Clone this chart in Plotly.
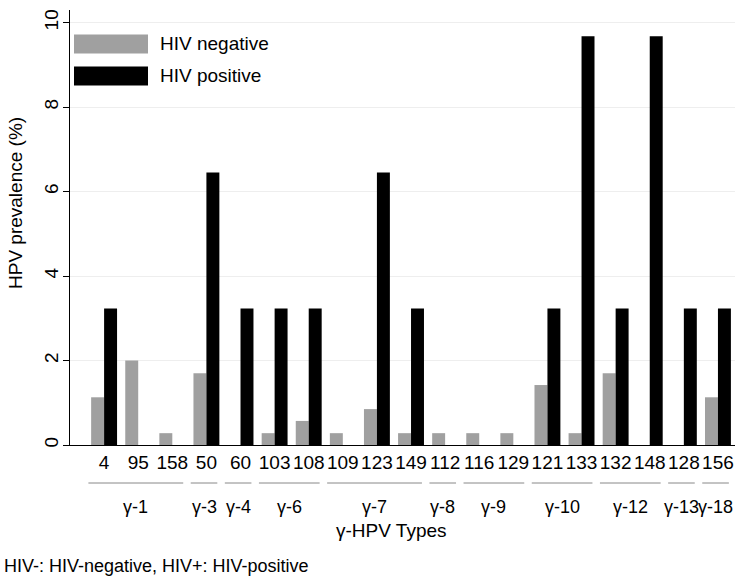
import plotly.graph_objects as go

types = ["4", "95", "158", "50", "60", "103", "108", "109", "123", "149",
         "112", "116", "129", "121", "133", "132", "148", "128", "156"]
hiv_negative = [1.13, 2.0, 0.28, 1.7, 0.0, 0.28, 0.57, 0.28, 0.85, 0.28,
                0.28, 0.28, 0.28, 1.42, 0.28, 1.7, 0.0, 0.0, 1.13]
hiv_positive = [3.23, 0.0, 0.0, 6.45, 3.23, 3.23, 3.23, 0.0, 6.45, 3.23,
                0.0, 0.0, 0.0, 3.23, 9.68, 3.23, 9.68, 3.23, 3.23]
groups = ["γ-1", "γ-3", "γ-4", "γ-6", "γ-7", "γ-8", "γ-9", "γ-10", "γ-12", "γ-13", "γ-18"]
group_sizes = [3, 1, 1, 2, 3, 1, 2, 2, 2, 1, 1]
y_ticks = [0, 2, 4, 6, 8, 10]

FONT = "Liberation Sans, Arial, sans-serif"
GRAY = "#a0a0a0"
FS = 19

W, H = 750, 581
L, T = 70, 10
R = W - 735
B = H - 445
PW, PH = W - L - R, H - T - B


def px_x(p):
    return (p - L) / PW


def px_y(p):
    return (T + PH - p) / PH


xs = list(range(len(types)))
fig = go.Figure()
fig.add_trace(go.Bar(x=xs, y=hiv_negative, name="HIV negative",
                     marker=dict(color=GRAY, line=dict(width=0)), showlegend=False))
fig.add_trace(go.Bar(x=xs, y=hiv_positive, name="HIV positive",
                     marker=dict(color="black", line=dict(width=0)), showlegend=False))

shapes = []
annotations = []
start = 0
for g, n in zip(groups, group_sizes):
    x0 = start - 0.46
    x1 = start + n - 1 + 0.32
    shapes.append(dict(type="line", xref="x", yref="paper", x0=x0, x1=x1,
                       y0=px_y(483), y1=px_y(483), line=dict(color="#888888", width=1)))
    annotations.append(dict(xref="x", yref="paper", x=(x0 + x1) / 2, y=px_y(507),
                            text=g, showarrow=False, font=dict(size=18, color="black", family=FONT),
                            xanchor="center", yanchor="middle"))
    start += n

# legend (drawn)
leg = [("HIV negative", GRAY, 44), ("HIV positive", "black", 76)]
for label, col, yc in leg:
    shapes.append(dict(type="rect", xref="paper", yref="paper",
                       x0=px_x(74), x1=px_x(148),
                       y0=px_y(yc + 9.5), y1=px_y(yc - 9.5), fillcolor=col,
                       line=dict(width=0)))
    annotations.append(dict(xref="paper", yref="paper", x=px_x(158), y=px_y(yc),
                            text=label, showarrow=False, xanchor="left", yanchor="middle",
                            font=dict(size=FS, color="black", family=FONT)))

annotations.append(dict(xref="paper", yref="paper", x=px_x(391), y=px_y(530),
                        text="γ-HPV Types", showarrow=False, xanchor="center", yanchor="middle",
                        font=dict(size=FS, color="black", family=FONT)))
annotations.append(dict(xref="paper", yref="paper", x=px_x(15), y=px_y(203),
                        text="HPV prevalence (%)", showarrow=False, textangle=-90,
                        xanchor="center", yanchor="middle",
                        font=dict(size=FS, color="black", family=FONT)))
annotations.append(dict(xref="paper", yref="paper", x=px_x(2), y=px_y(566),
                        text="HIV-: HIV-negative, HIV+: HIV-positive", showarrow=False,
                        xanchor="left", yanchor="middle",
                        font=dict(size=18, color="black", family=FONT)))

fig.update_layout(
    width=W, height=H,
    margin=dict(l=L, r=R, t=T, b=B),
    plot_bgcolor="white", paper_bgcolor="white",
    barmode="group", bargap=0.24, bargroupgap=0,
    font=dict(family=FONT, size=FS, color="black"),
    shapes=shapes, annotations=annotations,
    xaxis=dict(tickmode="array", tickvals=xs, ticktext=types, range=[-1, 18.5],
               showline=True, linecolor="black", linewidth=1, showgrid=False,
               ticks="", tickfont=dict(size=FS), zeroline=False, automargin=False),
    yaxis=dict(range=[0, 10.3], tickvals=y_ticks, showline=True, linecolor="black",
               linewidth=1, showgrid=True, gridcolor="#eeeeee", gridwidth=1,
               ticks="outside", ticklen=6, tickcolor="black", tickangle=-90,
               ticklabelstandoff=-3,
               tickfont=dict(size=FS), zeroline=False, automargin=False),
)

fig.write_html("out.html", config={"displayModeBar": False},
               post_script="document.body.style.margin='0px';")
